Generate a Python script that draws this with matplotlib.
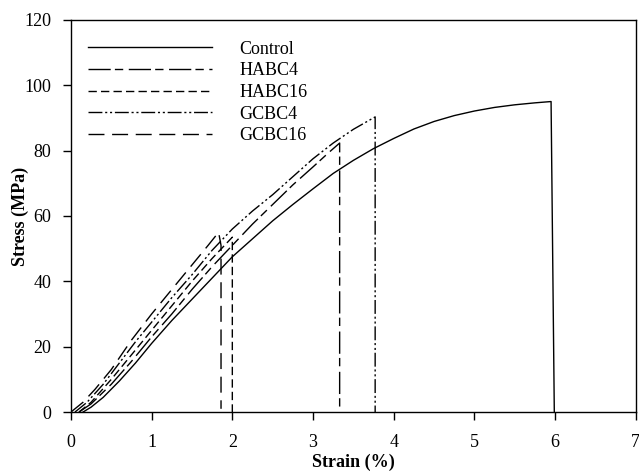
import matplotlib
matplotlib.use("Agg")
import matplotlib.pyplot as plt

plt.rcParams['font.family'] = ['Liberation Serif', 'DejaVu Serif']

# Data (strain %, stress MPa)
control_x = [0.15, 0.25, 0.4, 0.6, 0.8, 1.0, 1.25, 1.5, 1.75, 2.0, 2.25, 2.5, 2.75, 3.0,
             3.25, 3.5, 3.75, 4.0, 4.25, 4.5, 4.75, 5.0, 5.25, 5.5, 5.75, 5.95, 5.99]
control_y = [0, 1.5, 4.5, 9.5, 15, 21, 28, 34.5, 41, 47.5, 53, 58.5, 63.5, 68.3,
             73, 77, 80.6, 83.7, 86.6, 88.9, 90.7, 92.1, 93.2, 94.0, 94.6, 95, 0]

habc4_x = [0.1, 0.25, 0.5, 0.75, 1.0, 1.25, 1.5, 1.75, 2.0, 2.25, 2.5, 2.75, 3.0, 3.2, 3.33, 3.33]
habc4_y = [0, 2.5, 8.5, 15.5, 23, 30, 37.5, 44.5, 51, 57.5, 63.5, 69.5, 75, 79.5, 82.3, 0]

habc16_x = [0.1, 0.25, 0.5, 0.75, 1.0, 1.25, 1.5, 1.75, 2.0, 2.0]
habc16_y = [0, 3, 10, 17.5, 25, 32.5, 40, 47, 53.5, 0]

gcbc4_x = [0.05, 0.2, 0.4, 0.6, 0.8, 1.0, 1.25, 1.5, 1.75, 2.0, 2.25, 2.5, 2.75, 3.0,
           3.25, 3.5, 3.77, 3.77]
gcbc4_y = [0, 3, 8.5, 15, 21.5, 27.5, 35, 42, 49.5, 56, 61.5, 66.5, 72, 77.5,
           82.3, 86.5, 90.3, 0]

gcbc16_x = [0.0, 0.15, 0.3, 0.5, 0.75, 1.0, 1.25, 1.5, 1.7, 1.83, 1.86, 1.86]
gcbc16_y = [0, 3, 7, 13, 22, 30, 37.5, 45, 51, 55, 51, 1]

labels = ["Control", "HABC4", "HABC16", "GCBC4", "GCBC16"]

fig = plt.figure(figsize=(6.39, 4.72), dpi=100)
ax = fig.add_axes([0.111, 0.127, 0.884, 0.831])

lw = 1.0
ax.plot(control_x, control_y, color='black', lw=lw, linestyle='-', label=labels[0])
ax.plot(habc4_x, habc4_y, color='black', lw=lw, dashes=(16, 3, 6, 4), label=labels[1])
ax.plot(habc16_x, habc16_y, color='black', lw=lw, dashes=(6, 3), label=labels[2])
ax.plot(gcbc4_x, gcbc4_y, color='black', lw=lw, dashes=(10, 2, 1.5, 2, 1.5, 2), label=labels[3])
ax.plot(gcbc16_x, gcbc16_y, color='black', lw=lw, dashes=(11.5, 5.5), label=labels[4])

ax.set_xlim(0, 7)
ax.set_ylim(0, 120)
ax.set_xticks(range(0, 8))
ax.set_yticks(range(0, 121, 20))
ax.tick_params(direction='out', length=6, width=1, labelsize=13, top=False, right=False)
ax.tick_params(axis='x', pad=10)
ax.tick_params(axis='y', pad=8)
for s in ax.spines.values():
    s.set_linewidth(1.0)

ax.set_xlabel("Strain (%)", fontsize=13, fontweight='bold', labelpad=2)
ax.set_ylabel("Stress (MPa)", fontsize=13, fontweight='bold', labelpad=-3)

ax.legend(loc='upper left', frameon=False, fontsize=13, handlelength=6.9,
          handletextpad=1.5, labelspacing=0.26, bbox_to_anchor=(-0.007, 1.0),
          borderaxespad=0.85, borderpad=0.3)

fig.savefig("out.png", dpi=100)
